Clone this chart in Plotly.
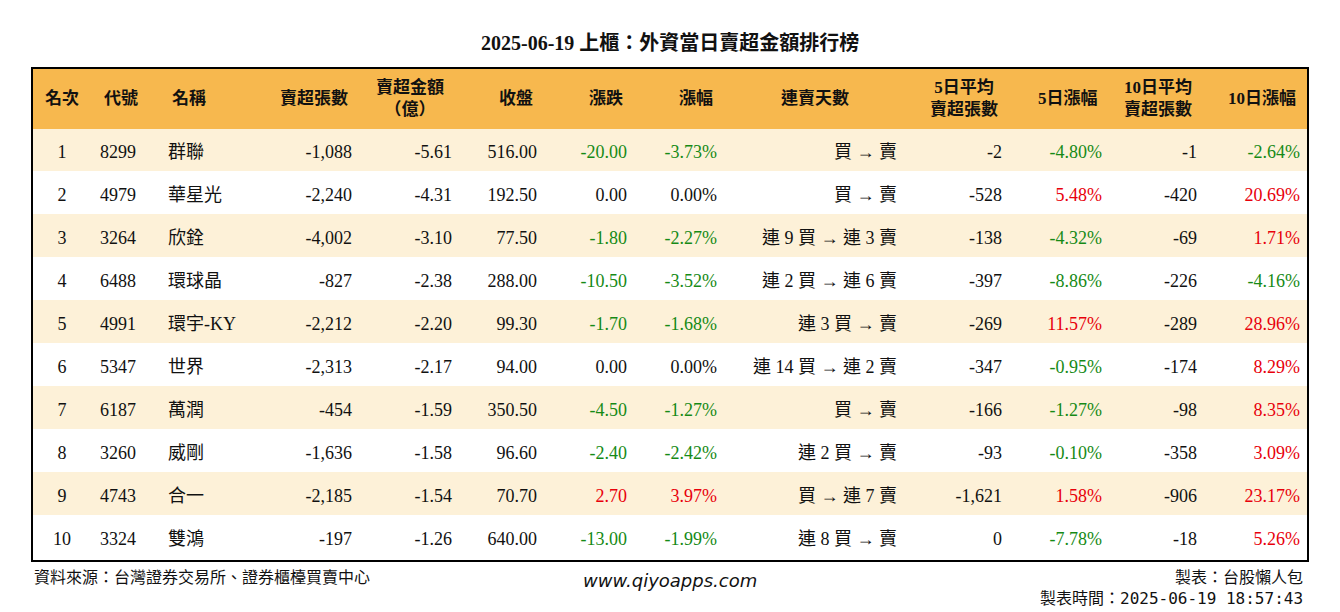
import plotly.graph_objects as go

rank = list(range(1, 11))
code = ["8299","4979","3264","6488","4991","5347","6187","3260","4743","3324"]
name = ["群聯","華星光","欣銓","環球晶","環宇-KY","世界","萬潤","威剛","合一","雙鴻"]
sell_vol = [-1088,-2240,-4002,-827,-2212,-2313,-454,-1636,-2185,-197]
sell_amt = [-5.61,-4.31,-3.10,-2.38,-2.20,-2.17,-1.59,-1.58,-1.54,-1.26]
close = [516.00,192.50,77.50,288.00,99.30,94.00,350.50,96.60,70.70,640.00]
chg = [-20.00,0.00,-1.80,-10.50,-1.70,0.00,-4.50,-2.40,2.70,-13.00]
pct = [-3.73,0.00,-2.27,-3.52,-1.68,0.00,-1.27,-2.42,3.97,-1.99]
days = ["買 → 賣","買 → 賣","連 9 買 → 連 3 賣","連 2 買 → 連 6 賣","連 3 買 → 賣",
        "連 14 買 → 連 2 賣","買 → 賣","連 2 買 → 賣","買 → 連 7 賣","連 8 買 → 賣"]
avg5 = [-2,-528,-138,-397,-269,-347,-166,-93,-1621,0]
pct5 = [-4.80,5.48,-4.32,-8.86,11.57,-0.95,-1.27,-0.10,1.58,-7.78]
avg10 = [-1,-420,-69,-226,-289,-174,-98,-358,-906,-18]
pct10 = [-2.64,20.69,1.71,-4.16,28.96,8.29,8.35,3.09,23.17,5.26]

headers = ["名次","代號","名稱","賣超張數","賣超金額<br>（億）","收盤","漲跌","漲幅","連賣天數",
           "5日平均<br>賣超張數","5日漲幅","10日平均<br>賣超張數","10日漲幅"]
widths = [60,68,95,105,100,85,90,90,180,105,100,95,103]

W, H = 1340, 612
OX, OY = 8, 8  # page body margin
def px(x): return (x - OX) / W
def py(y): return 1 - (y - OY) / H

GREEN, RED, BLACK = "#168a16", "#e8000b", "#111111"
def col(vals):
    return [GREEN if v < 0 else RED if v > 0 else BLACK for v in vals]

cells = [
    [str(r) for r in rank], code, name,
    [f"{v:,}" for v in sell_vol], [f"{v:.2f}" for v in sell_amt],
    [f"{v:.2f}" for v in close], [f"{v:.2f}" for v in chg], [f"{v:.2f}%" for v in pct],
    days, [f"{v:,}" for v in avg5], [f"{v:.2f}%" for v in pct5],
    [f"{v:,}" for v in avg10], [f"{v:.2f}%" for v in pct10],
]
fcolors = [[BLACK]*10]*6 + [col(chg), col(pct), [BLACK]*10, [BLACK]*10, col(pct5), [BLACK]*10, col(pct10)]
row_fill = ["#fdf1d8" if i % 2 == 0 else "#ffffff" for i in range(10)]
calign = ["center","left","left","right","right","right","right","right","right","right","right","right","right"]
halign = ["center","left","left","right","center","right","right","right","center","right","right","center","right"]

font = "Liberation Serif, Noto Sans CJK TC"
HDR = "#f7b84e"
L, R, T = 32, 1308, 68
CLEAR = "rgba(0,0,0,0)"
fig = go.Figure(go.Table(
    columnwidth=widths,
    domain=dict(x=[px(L), px(R)], y=[py(562), py(T)]),
    header=dict(values=[""]*13, fill_color=HDR, line_color=HDR, height=60),
    cells=dict(values=[[""]*10]*13, fill_color=[row_fill]*13, line_color=[row_fill]*13, height=43),
))
TXT = 8
fig.add_trace(go.Table(
    columnwidth=widths,
    domain=dict(x=[px(L), px(R)], y=[py(562 + TXT), py(T + TXT)]),
    header=dict(values=[""]*13, fill_color=CLEAR, line_color=CLEAR, height=60),
    cells=dict(values=cells, fill_color=CLEAR, line_color=CLEAR, align=calign, height=43,
               font=dict(family=font, size=18, color=fcolors)),
))
x = L
for h, w, a in zip(headers, widths, halign):
    if a == "center":
        xx, xa = x + w/2, "center"
    elif a == "left":
        xx, xa = x + 10, "left"
    else:
        xx, xa = x + w - 10, "right"
    fig.add_annotation(text=f"<b>{h}</b>", x=px(xx), y=py(T + 30), xref="paper", yref="paper",
                       xanchor=xa, yanchor="middle", showarrow=False, align="center",
                       font=dict(family=font, size=17, color=BLACK))
    x += w
fig.add_shape(type="rect", xref="paper", yref="paper", x0=px(L), x1=px(R),
              y0=py(561), y1=py(T), line=dict(color="black", width=2))
fig.add_annotation(text="<b>2025-06-19 上櫃：外資當日賣超金額排行榜</b>", x=px(670), y=py(42),
                   xref="paper", yref="paper", yanchor="middle", showarrow=False,
                   font=dict(family=font, size=20, color=BLACK))
small = dict(family="DejaVu Sans Mono, Noto Sans CJK TC", size=16, color=BLACK)
fig.add_annotation(text="資料來源：台灣證券交易所、證券櫃檯買賣中心", x=px(32), y=py(577),
                   xref="paper", yref="paper", xanchor="left", yanchor="middle", showarrow=False, font=small)
fig.add_annotation(text="<i>www.qiyoapps.com</i>", x=px(670), y=py(580), xref="paper", yref="paper",
                   yanchor="middle", showarrow=False, font=dict(family="DejaVu Sans", size=18, color=BLACK))
fig.add_annotation(text="製表：台股懶人包", x=px(1305), y=py(577), xref="paper", yref="paper",
                   xanchor="right", yanchor="middle", showarrow=False, font=small)
fig.add_annotation(text="製表時間：2025-06-19 18:57:43", x=px(1305), y=py(598), xref="paper",
                   yref="paper", xanchor="right", yanchor="middle", showarrow=False, font=small)
fig.update_layout(width=W, height=H, margin=dict(l=0, r=0, t=0, b=0), paper_bgcolor="white")
fig.write_html("out.html")
